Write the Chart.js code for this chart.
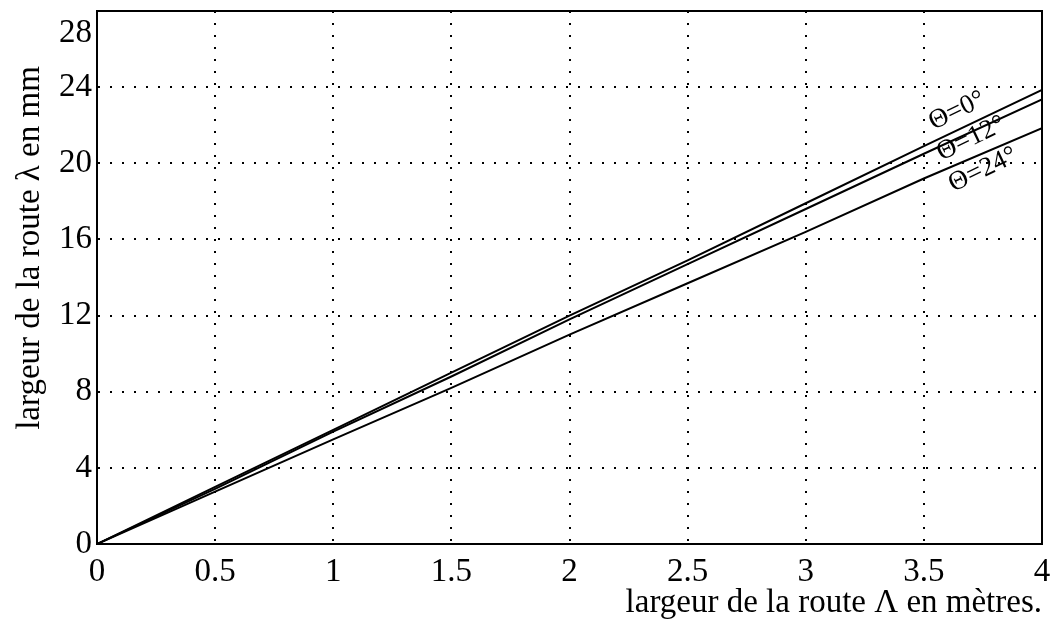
<!DOCTYPE html>
<html lang="fr">
<head>
<meta charset="UTF-8">
<title>largeur de la route</title>
<script src="https://cdn.jsdelivr.net/npm/chart.js"></script>
<style>
  html, body { margin: 0; padding: 0; background: #fff; }
  #wrap { width: 1054px; height: 625px; }
</style>
</head>
<body>
<div id="wrap"><canvas id="myChart" width="1054" height="625"></canvas></div>
<script>
// abscisses (largeur de la route en metres)
var xValues = [0, 0.5, 1, 1.5, 2, 2.5, 3, 3.5, 4];
// largeur lambda en mm pour chaque angle
var theta0 = [0, 3.0, 6.0, 9.0, 12.0, 14.9, 17.9, 20.9, 23.85];
var theta12 = [0, 2.9, 5.9, 8.8, 11.8, 14.7, 17.6, 20.5, 23.35];
var theta24 = [0, 2.75, 5.5, 8.2, 11.0, 13.7, 16.4, 19.2, 21.85];

var xTicks = [0, 0.5, 1, 1.5, 2, 2.5, 3, 3.5, 4];
var yTicks = [0, 4, 8, 12, 16, 20, 24, 28];

// etiquettes des courbes (position en unites du graphique)
var curveLabels = ['\u0398=0\u00b0', '\u0398=12\u00b0', '\u0398=24\u00b0'];
var curveLabelX = [3.64, 3.70, 3.75];
var curveLabelY = [22.75, 21.3, 19.65];

var yTitle = 'largeur de la route \u03bb en mm';
var xTitle = 'largeur de la route \u039b en m\u00e8tres.';

var serif = '"Liberation Serif", "DejaVu Serif", serif';
var fontSize = 33;

function toPoints(ys) {
    return xValues.map(function (x, i) { return {x: x, y: ys[i]}; });
}

var lineStyle = {borderColor: '#000', borderWidth: 2, pointRadius: 0, fill: false, tension: 0};

var frameAndLabels = {
    id: 'frameAndLabels',
    afterDraw: function (chart) {
        var ctx = chart.ctx, a = chart.chartArea;
        var xs = chart.scales.x, ys = chart.scales.y;
        ctx.save();
        ctx.strokeStyle = '#000';
        ctx.lineWidth = 2;
        ctx.strokeRect(a.left, a.top, a.right - a.left, a.bottom - a.top);

        ctx.fillStyle = '#000';
        ctx.font = fontSize + 'px ' + serif;
        // "28" un peu sous le bord, comme sur l'original
        ctx.textAlign = 'right';
        ctx.textBaseline = 'middle';
        ctx.fillText('28', a.left - 5, a.top + 22);

        // titre de l'axe vertical
        ctx.save();
        ctx.translate(30, 248);
        ctx.rotate(-Math.PI / 2);
        ctx.textAlign = 'center';
        ctx.fillText(yTitle, 0, 0);
        ctx.restore();

        // etiquettes inclinees le long des droites
        var ang = Math.atan2(ys.getPixelForValue(theta0[8]) - ys.getPixelForValue(0),
                             xs.getPixelForValue(4) - xs.getPixelForValue(0));
        ctx.font = '27px ' + serif;
        ctx.textAlign = 'center';
        for (var i = 0; i < curveLabels.length; i++) {
            ctx.save();
            ctx.translate(xs.getPixelForValue(curveLabelX[i]), ys.getPixelForValue(curveLabelY[i]));
            ctx.rotate(ang);
            ctx.fillText(curveLabels[i], 0, 0);
            ctx.restore();
        }
        ctx.restore();
    }
};

function noPad(s) {
    s.paddingTop = 0; s.paddingBottom = 0; s.paddingLeft = 0; s.paddingRight = 0;
}

var ctx = document.getElementById('myChart').getContext('2d');
var myChart = new Chart(ctx, {
    type: 'line',
    data: {
        datasets: [
            Object.assign({label: curveLabels[0], data: toPoints(theta0)}, lineStyle),
            Object.assign({label: curveLabels[1], data: toPoints(theta12)}, lineStyle),
            Object.assign({label: curveLabels[2], data: toPoints(theta24)}, lineStyle)
        ]
    },
    options: {
        responsive: false,
        animation: false,
        layout: {padding: {top: 11, right: 12, left: 0, bottom: 0}},
        plugins: {legend: {display: false}, tooltip: {enabled: false}},
        scales: {
            x: {
                type: 'linear',
                min: 0, max: 4,
                afterBuildTicks: function (s) { s.ticks = xTicks.map(function (v) { return {value: v}; }); },
                afterFit: function (s) { s.height = 81; noPad(s); },
                grid: {color: '#000', lineWidth: 2, drawTicks: false},
                border: {display: true, color: '#000', width: 2, dash: [2, 10]},
                ticks: {
                    color: '#000', padding: 9, maxRotation: 0,
                    font: {family: serif, size: fontSize},
                    callback: function (v) { return String(v); }
                },
                title: {
                    display: true, align: 'end',
                    text: xTitle,
                    color: '#000', font: {family: serif, size: fontSize},
                    padding: {top: 0, bottom: 2}
                }
            },
            y: {
                min: 0, max: 28,
                afterBuildTicks: function (s) { s.ticks = yTicks.map(function (v) { return {value: v}; }); },
                afterFit: function (s) { s.width = 97; noPad(s); },
                grid: {color: '#000', lineWidth: 2, drawTicks: false},
                border: {display: true, color: '#000', width: 2, dash: [2, 10]},
                ticks: {
                    color: '#000', padding: 5,
                    font: {family: serif, size: fontSize},
                    callback: function (v) { return v === 28 ? '' : String(v); }
                }
            }
        }
    },
    plugins: [frameAndLabels]
});
</script>
</body>
</html>
